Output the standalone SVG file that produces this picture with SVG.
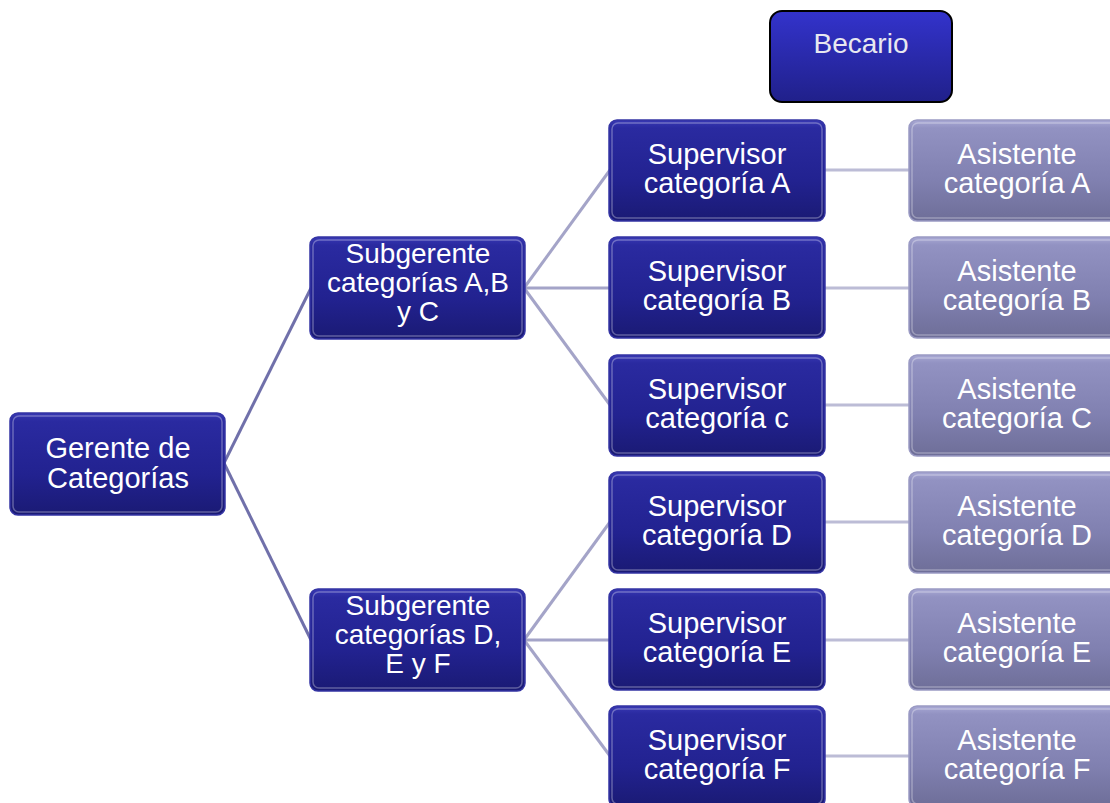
<svg xmlns="http://www.w3.org/2000/svg" width="1110" height="803" viewBox="0 0 1110 803">
<defs>
<linearGradient id="gDark" x1="0" y1="0" x2="0" y2="1">
<stop offset="0" stop-color="#3838b4"/>
<stop offset="0.08" stop-color="#2a2aa0"/>
<stop offset="0.6" stop-color="#222290"/>
<stop offset="1" stop-color="#1a1a74"/>
</linearGradient>
<linearGradient id="gLight" x1="0" y1="0" x2="0" y2="1">
<stop offset="0" stop-color="#a8a8d4"/>
<stop offset="0.08" stop-color="#9292c2"/>
<stop offset="0.6" stop-color="#8080b0"/>
<stop offset="1" stop-color="#6e6e98"/>
</linearGradient>
<linearGradient id="gBec" x1="0" y1="0" x2="0" y2="1">
<stop offset="0" stop-color="#3333cc"/>
<stop offset="1" stop-color="#20208a"/>
</linearGradient>
</defs>
<style>
.dark{fill:url(#gDark);stroke:#3434a4;stroke-width:1.5}
.light{fill:url(#gLight);stroke:#9a9ac4;stroke-width:1.5}
.hl{fill:none;stroke:#ffffff;stroke-opacity:0.3;stroke-width:1.5}
.t{font-family:"Liberation Sans",Arial,sans-serif;font-size:29px;fill:#ffffff;text-anchor:middle}
.s{font-size:28px}
.c1{stroke:#7070aa;stroke-width:3;fill:none}
.c2{stroke:#a4a4c8;stroke-width:3;fill:none}
.c3{stroke:#bcbcd6;stroke-width:3;fill:none}
</style>
<rect width="1110" height="803" fill="#ffffff"/>
<g id="connectors">
<line class="c1" x1="224" y1="463" x2="311" y2="288"/>
<line class="c1" x1="224" y1="463" x2="311" y2="640"/>
<line class="c2" x1="524" y1="288" x2="610" y2="170"/>
<line class="c2" x1="524" y1="288" x2="610" y2="288"/>
<line class="c2" x1="524" y1="288" x2="610" y2="405"/>
<line class="c2" x1="524" y1="640" x2="610" y2="522"/>
<line class="c2" x1="524" y1="640" x2="610" y2="640"/>
<line class="c2" x1="524" y1="640" x2="610" y2="756"/>
<line class="c3" x1="824" y1="170" x2="910" y2="170"/>
<line class="c3" x1="824" y1="288" x2="910" y2="288"/>
<line class="c3" x1="824" y1="405" x2="910" y2="405"/>
<line class="c3" x1="824" y1="522" x2="910" y2="522"/>
<line class="c3" x1="824" y1="640" x2="910" y2="640"/>
<line class="c3" x1="824" y1="756" x2="910" y2="756"/>
</g>
<g id="becario">
<rect x="770" y="11" width="182" height="91" rx="12" fill="url(#gBec)" stroke="#000000" stroke-width="2"/>
<text x="861" y="53" class="t" style="font-size:28px;fill:#e8e8f0">Becario</text>
</g>
<g id="gerente">
<rect class="dark" x="10" y="413" width="215" height="102" rx="8"/>
<rect class="hl" x="13" y="416" width="209" height="96" rx="6"/>
<text class="t" x="118" y="458">Gerente de</text>
<text class="t" x="118" y="488">Categorías</text>
</g>
<g id="subgerente-abc">
<rect class="dark" x="310" y="237" width="215" height="102" rx="8"/>
<rect class="hl" x="313" y="240" width="209" height="96" rx="6"/>
<text class="t s" x="418" y="263">Subgerente</text>
<text class="t s" x="418" y="292">categorías A,B</text>
<text class="t s" x="418" y="321">y C</text>
</g>
<g id="subgerente-def">
<rect class="dark" x="310" y="589" width="215" height="102" rx="8"/>
<rect class="hl" x="313" y="592" width="209" height="96" rx="6"/>
<text class="t s" x="418" y="615">Subgerente</text>
<text class="t s" x="418" y="644">categorías D,</text>
<text class="t s" x="418" y="673">E y F</text>
</g>
<g id="supervisor-a">
<rect class="dark" x="609" y="120" width="216" height="101" rx="8"/>
<rect class="hl" x="612" y="123" width="210" height="95" rx="6"/>
<text class="t" x="717" y="164">Supervisor</text>
<text class="t" x="717" y="193">categoría A</text>
</g>
<g id="supervisor-b">
<rect class="dark" x="609" y="237" width="216" height="101" rx="8"/>
<rect class="hl" x="612" y="240" width="210" height="95" rx="6"/>
<text class="t" x="717" y="281">Supervisor</text>
<text class="t" x="717" y="310">categoría B</text>
</g>
<g id="supervisor-c">
<rect class="dark" x="609" y="355" width="216" height="101" rx="8"/>
<rect class="hl" x="612" y="358" width="210" height="95" rx="6"/>
<text class="t" x="717" y="399">Supervisor</text>
<text class="t" x="717" y="428">categoría c</text>
</g>
<g id="supervisor-d">
<rect class="dark" x="609" y="472" width="216" height="101" rx="8"/>
<rect class="hl" x="612" y="475" width="210" height="95" rx="6"/>
<text class="t" x="717" y="516">Supervisor</text>
<text class="t" x="717" y="545">categoría D</text>
</g>
<g id="supervisor-e">
<rect class="dark" x="609" y="589" width="216" height="101" rx="8"/>
<rect class="hl" x="612" y="592" width="210" height="95" rx="6"/>
<text class="t" x="717" y="633">Supervisor</text>
<text class="t" x="717" y="662">categoría E</text>
</g>
<g id="supervisor-f">
<rect class="dark" x="609" y="706" width="216" height="101" rx="8"/>
<rect class="hl" x="612" y="709" width="210" height="95" rx="6"/>
<text class="t" x="717" y="750">Supervisor</text>
<text class="t" x="717" y="779">categoría F</text>
</g>
<g id="asistente-a">
<rect class="light" x="909" y="120" width="216" height="101" rx="8"/>
<rect class="hl" x="912" y="123" width="210" height="95" rx="6"/>
<text class="t" x="1017" y="164">Asistente</text>
<text class="t" x="1017" y="193">categoría A</text>
</g>
<g id="asistente-b">
<rect class="light" x="909" y="237" width="216" height="101" rx="8"/>
<rect class="hl" x="912" y="240" width="210" height="95" rx="6"/>
<text class="t" x="1017" y="281">Asistente</text>
<text class="t" x="1017" y="310">categoría B</text>
</g>
<g id="asistente-c">
<rect class="light" x="909" y="355" width="216" height="101" rx="8"/>
<rect class="hl" x="912" y="358" width="210" height="95" rx="6"/>
<text class="t" x="1017" y="399">Asistente</text>
<text class="t" x="1017" y="428">categoría C</text>
</g>
<g id="asistente-d">
<rect class="light" x="909" y="472" width="216" height="101" rx="8"/>
<rect class="hl" x="912" y="475" width="210" height="95" rx="6"/>
<text class="t" x="1017" y="516">Asistente</text>
<text class="t" x="1017" y="545">categoría D</text>
</g>
<g id="asistente-e">
<rect class="light" x="909" y="589" width="216" height="101" rx="8"/>
<rect class="hl" x="912" y="592" width="210" height="95" rx="6"/>
<text class="t" x="1017" y="633">Asistente</text>
<text class="t" x="1017" y="662">categoría E</text>
</g>
<g id="asistente-f">
<rect class="light" x="909" y="706" width="216" height="101" rx="8"/>
<rect class="hl" x="912" y="709" width="210" height="95" rx="6"/>
<text class="t" x="1017" y="750">Asistente</text>
<text class="t" x="1017" y="779">categoría F</text>
</g>
</svg>
